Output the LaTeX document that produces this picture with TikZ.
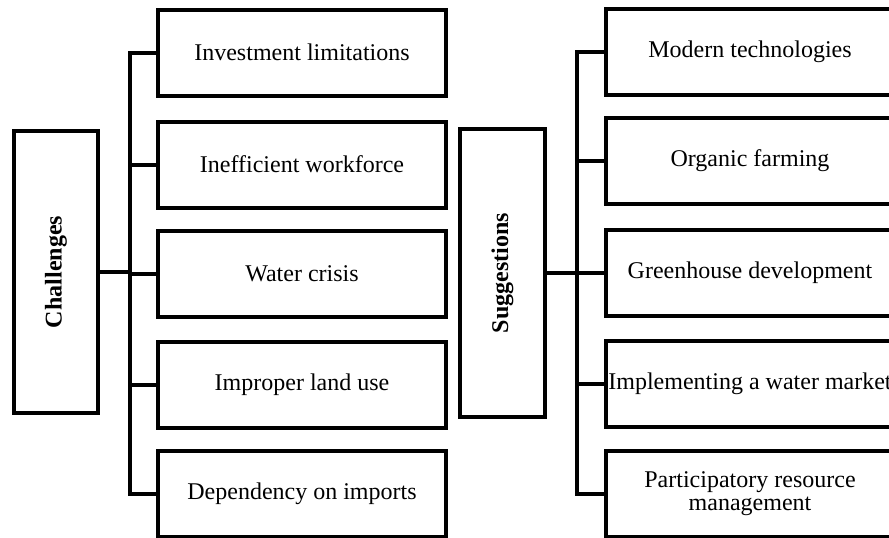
\documentclass[tikz,border=0pt]{standalone}
\usepackage{fontspec}
\setmainfont{Liberation Serif}
\begin{document}
\begin{tikzpicture}[x=0.5pt,y=-0.5pt,line width=2pt,
    itembox/.style={draw,rectangle,minimum width=144pt,minimum height=43pt,
      inner xsep=0pt,font=\fontsize{12}{11.5}\selectfont,align=center},
    headbox/.style={draw,rectangle,minimum width=42pt,minimum height=141pt,
      font=\fontsize{12}{14}\selectfont\bfseries}]
  \useasboundingbox (0,0) rectangle (889,537);
  % left side
  \draw
    (56,272) node[headbox] (ch){\rotatebox{90}{Challenges}}
    (302,52.5) node[itembox] (c1){Investment limitations}
    (302,164.5) node[itembox] (c2){Inefficient workforce}
    (302,274) node[itembox] (c3){Water crisis}
    (302,384.5) node[itembox] (c4){Improper land use}
    (302,494) node[itembox] (c5){Dependency on imports};
  \coordinate (ltrunk) at (130,0);
  % right side
  \draw
    (502.5,273) node[headbox,minimum width=42.5pt,minimum height=144pt] (sg){\rotatebox{90}{Suggestions}}
    (750,51.5) node[itembox] (s1){Modern technologies}
    (750,161) node[itembox] (s2){Organic farming}
    (750,272.5) node[itembox] (s3){Greenhouse development}
    (750,383.5) node[itembox] (s4){Implementing a water market}
    (750,494) node[itembox] (s5){Participatory resource\\management};
  \coordinate (rtrunk) at (577,0);
  \begin{scope}[-]
    \draw (c1.west) -- (c1.west -| ltrunk) -- (c5.west -| ltrunk) -- (c5.west);
    \foreach \i in {2,3,4}
      \draw (c\i.west) -- (c\i.west -| ltrunk);
    \draw (ch.east) -- (ch.east -| ltrunk);
    \draw (s1.west) -- (s1.west -| rtrunk) -- (s5.west -| rtrunk) -- (s5.west);
    \foreach \i in {2,3,4}
      \draw (s\i.west) -- (s\i.west -| rtrunk);
    \draw (sg.east) -- (sg.east -| rtrunk);
  \end{scope}
\end{tikzpicture}
\end{document}
